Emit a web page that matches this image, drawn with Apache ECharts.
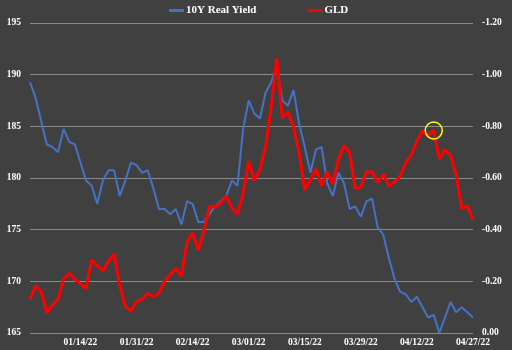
<!DOCTYPE html>
<html>
<head>
<meta charset="utf-8">
<script src="https://cdn.jsdelivr.net/npm/echarts@6/dist/echarts.min.js"></script>
<style>
html,body{margin:0;padding:0;background:#404040;}
#chart{width:512px;height:350px;}
</style>
</head>
<body>
<div id="chart"></div>
<script>
const dates = [
"01/03/22","01/04/22","01/05/22","01/06/22","01/07/22","01/10/22","01/11/22","01/12/22","01/13/22","01/14/22",
"01/18/22","01/19/22","01/20/22","01/21/22","01/24/22","01/25/22","01/26/22","01/27/22","01/28/22","01/31/22",
"02/01/22","02/02/22","02/03/22","02/04/22","02/07/22","02/08/22","02/09/22","02/10/22","02/11/22","02/14/22",
"02/15/22","02/16/22","02/17/22","02/18/22","02/22/22","02/23/22","02/24/22","02/25/22","02/28/22","03/01/22",
"03/02/22","03/03/22","03/04/22","03/07/22","03/08/22","03/09/22","03/10/22","03/11/22","03/14/22","03/15/22",
"03/16/22","03/17/22","03/18/22","03/21/22","03/22/22","03/23/22","03/24/22","03/25/22","03/28/22","03/29/22",
"03/30/22","03/31/22","04/01/22","04/04/22","04/05/22","04/06/22","04/07/22","04/08/22","04/11/22","04/12/22",
"04/13/22","04/14/22","04/18/22","04/19/22","04/20/22","04/21/22","04/22/22","04/25/22","04/26/22","04/27/22"
];
const realYield = [
-0.97,-0.91,-0.82,-0.73,-0.72,-0.70,-0.79,-0.74,-0.73,-0.66,
-0.59,-0.57,-0.50,-0.59,-0.63,-0.63,-0.53,-0.59,-0.66,-0.65,
-0.62,-0.63,-0.56,-0.48,-0.48,-0.46,-0.48,-0.42,-0.51,-0.50,
-0.43,-0.43,-0.46,-0.49,-0.51,-0.53,-0.59,-0.57,-0.79,-0.90,
-0.85,-0.83,-0.93,-0.97,-1.03,-0.90,-0.88,-0.94,-0.81,-0.72,
-0.62,-0.71,-0.72,-0.58,-0.53,-0.62,-0.58,-0.48,-0.49,-0.45,
-0.51,-0.52,-0.41,-0.38,-0.29,-0.21,-0.16,-0.15,-0.12,-0.14,
-0.10,-0.06,-0.07,0.00,-0.06,-0.12,-0.08,-0.10,-0.08,-0.06
];
const gld = [
168.26,169.55,169.02,166.96,167.71,168.26,170.23,170.78,170.20,169.74,
169.33,172.06,171.53,171.03,171.97,172.62,169.65,167.55,167.13,168.07,
168.26,168.84,168.51,168.84,170.03,170.64,171.22,170.52,173.76,174.71,
173.03,174.82,177.24,177.16,177.58,178.26,177.10,176.52,178.45,181.65,
179.76,180.77,183.00,186.77,191.61,185.81,186.39,184.94,182.42,178.84,
179.81,180.87,179.23,180.61,179.42,181.81,183.15,182.42,179.00,179.10,
180.58,180.61,179.56,180.39,179.23,179.61,180.15,181.45,182.23,183.58,
184.55,184.11,184.60,181.81,182.76,182.23,180.29,177.07,177.29,175.94
];
const highlightIndex = 72;
const seriesNames = ["10Y Real Yield", "GLD"];

const font = "'Liberation Serif','Times New Roman',serif";
const chart = echarts.init(document.getElementById('chart'), null, {renderer:'canvas'});
chart.setOption({
  backgroundColor: '#404040',
  animation: false,
  legend: {
    top: 0, left: 164,
    icon: 'rect',
    itemWidth: 15, itemHeight: 3, itemGap: 51,
    textStyle: {color:'#ffffff', fontFamily: font, fontWeight:'bold', fontSize: 11, padding:[0,0,0,-3]},
    data: seriesNames
  },
  grid: {left: 30, right: 39, top: 23, bottom: 17, containLabel: false},
  xAxis: {
    type: 'category', data: dates, boundaryGap: false,
    axisLine: {show:false}, axisTick: {show:false},
    axisLabel: {
      color:'#ffffff', fontFamily: font, fontWeight:'bold', fontSize: 9.5, margin: 5,
      interval: function(i){ return (i - 9) % 10 === 0; }
    },
    splitLine: {show:false}
  },
  yAxis: [
    {type:'value', min:165, max:195, interval:5, position:'left',
     axisLine:{show:false}, axisTick:{show:false},
     axisLabel:{color:'#ffffff', fontFamily: font, fontWeight:'bold', fontSize: 9.5, margin: 9},
     splitLine:{show:true, lineStyle:{color:'#8a8a8a', width:1}}},
    {type:'value', min:-1.2, max:0, interval:0.2, position:'right', inverse:true,
     axisLine:{show:false}, axisTick:{show:false},
     axisLabel:{color:'#ffffff', fontFamily: font, fontWeight:'bold', fontSize: 9.5, margin: 9,
       formatter: function(v){ const r = Math.round(v*100)/100; return (r === 0 ? 0 : r).toFixed(2); }},
     splitLine:{show:false}}
  ],
  series: [
    {name: seriesNames[0], type:'line', yAxisIndex:1, data: realYield, symbol:'none',
     lineStyle:{color:'#4472C4', width:2}, itemStyle:{color:'#4472C4'}},
    {name: seriesNames[1], type:'line', yAxisIndex:0, data: gld, symbol:'none',
     lineStyle:{color:'#FF0000', width:3}, itemStyle:{color:'#FF0000'},
     markPoint:{
       symbol:'circle', symbolSize:17, silent:true,
       itemStyle:{color:'rgba(0,0,0,0)', borderColor:'#FFFF00', borderWidth:1.5},
       label:{show:false},
       data:[{coord:[highlightIndex, gld[highlightIndex]]}]
     }}
  ]
});
</script>
</body>
</html>
